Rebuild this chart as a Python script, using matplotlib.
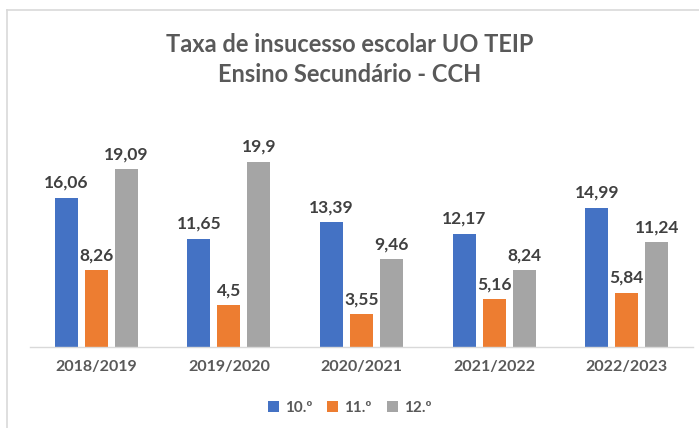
import matplotlib
matplotlib.use('Agg')
import matplotlib.pyplot as plt
from matplotlib.lines import Line2D
import numpy as np

plt.rcParams['font.family'] = ['Lato', 'DejaVu Sans']

# dados
anos = ['2018/2019', '2019/2020', '2020/2021', '2021/2022', '2022/2023']
ano10 = [16.06, 11.65, 13.39, 12.17, 14.99]
ano11 = [8.26, 4.5, 3.55, 5.16, 5.84]
ano12 = [19.09, 19.9, 9.46, 8.24, 11.24]
series = ['10.º', '11.º', '12.º']
cores = ['#4472c4', '#ed7d31', '#a5a5a5']

fig = plt.figure(figsize=(6.99, 4.28), dpi=100)
ax = fig.add_axes([30 / 699, 81 / 428, 663 / 699, 0.478])

x = np.arange(len(anos))
larg = 0.173
passo = 0.226
for i, (vals, nome, cor) in enumerate(zip([ano10, ano11, ano12], series, cores)):
    barras = ax.bar(x + (i - 1) * passo, vals, larg, color=cor, label=nome)
    for b, v in zip(barras, vals):
        txt = ('%g' % v).replace('.', ',')
        ax.annotate(txt, (b.get_x() + b.get_width() / 2, v), xytext=(0, 5),
                    textcoords='offset points', ha='center', va='bottom',
                    fontsize=12.5, fontweight='bold', color='#404040')

ax.set_xlim(-0.5, len(anos) - 0.5)
ax.set_ylim(0, 22)
ax.set_xticks(x)
ax.set_xticklabels(anos, fontsize=11.5, fontweight='bold', color='#595959')
ax.tick_params(axis='x', length=0, pad=9)
ax.set_yticks([])
for s in ['top', 'right', 'left']:
    ax.spines[s].set_visible(False)
ax.spines['bottom'].set_color('#d9d9d9')
ax.spines['bottom'].set_linewidth(1)

fig.text(0.5, 1 - 45 / 428, 'Taxa de insucesso escolar UO TEIP', ha='center', va='center',
         fontsize=17, fontweight='bold', color='#595959')
fig.text(0.5, 1 - 75 / 428, 'Ensino Secundário - CCH', ha='center', va='center',
         fontsize=17, fontweight='bold', color='#595959')

fig.legend(loc='center', bbox_to_anchor=(0.5, 1 - 408 / 428), ncol=3, frameon=False,
           prop={'size': 11, 'weight': 'bold'}, handlelength=0.7, handleheight=0.7,
           handletextpad=0.4, columnspacing=1.0, labelcolor='#595959')

# moldura do gráfico
fig.add_artist(Line2D([7 / 699, 1], [1 - 10 / 428, 1 - 10 / 428], color='#d9d9d9', lw=1.2,
                      transform=fig.transFigure))
fig.add_artist(Line2D([7 / 699, 7 / 699], [0, 1 - 10 / 428], color='#d9d9d9', lw=1.2,
                      transform=fig.transFigure))

fig.savefig('out.png', dpi=100)
